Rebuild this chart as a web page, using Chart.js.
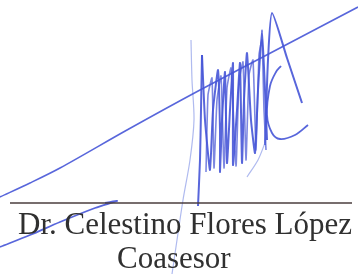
<!DOCTYPE html>
<html>
<head>
<meta charset="utf-8">
<script src="https://cdn.jsdelivr.net/npm/chart.js@4.4.1/dist/chart.umd.min.js"></script>
<style>
  html, body { margin: 0; padding: 0; background: #fff; }
  #sig { display: block; }
</style>
</head>
<body>
<canvas id="sig" width="358" height="274"></canvas>
<script>
// signature strokes (x, y in image pixels)
const longSlash = [[358, 7], [280, 48], [200, 90], [127, 130], [60, 168], [30, 183], [0, 197]];
const lowSlash = [[0, 247], [30, 235], [60, 222], [95, 208], [117, 201], [105, 203]];
const faintStem = [[191, 40], [192, 80], [194, 120], [190, 160], [183, 200], [177, 240], [172, 274]];
const mainStem = [[202, 55], [201, 110], [200, 160], [198, 206]];
const zigzag = [
  [202, 55], [205, 120], [210, 170], [213, 110], [218, 70],
  [220, 130], [220, 172], [222, 120], [225, 72], [227, 163], [230, 110], [233, 63],
  [233, 165], [237, 110], [240, 63], [242, 163], [244, 100], [247, 53], [251, 120],
  [255, 153], [258, 90], [262, 30], [265, 90], [267, 140]
];
const zigzag2 = [
  [206, 172], [208, 95], [212, 78], [214, 168], [217, 100], [221, 76], [224, 168],
  [227, 88], [231, 68], [236, 166], [239, 82], [243, 62], [246, 160], [249, 75],
  [253, 60], [256, 150], [259, 55], [262, 40], [264, 110], [266, 150]
];
const peakA = [[265, 145], [268, 60], [272, 13], [287, 58], [302, 103]];
const curlC = [[281, 66], [276, 72], [270, 86], [267, 115], [272, 133], [280, 139], [295, 135], [308, 125]];
const faintTail = [[265, 143], [258, 160], [247, 177]];
const rule = [[10, 203], [352, 203]];

const nameLines = ['Dr. Celestino Flores López', 'Coasesor'];

const ink = 'rgba(70, 85, 215, 0.9)';
const inkLight = 'rgba(110, 130, 225, 0.55)';

function stroke(points, color, width, tension) {
  return {
    data: points.map(p => ({ x: p[0], y: p[1] })),
    showLine: true,
    borderColor: color,
    borderWidth: width,
    pointRadius: 0,
    tension: tension,
    fill: false,
  };
}

const textPlugin = {
  id: 'caption',
  afterDatasetsDraw(chart) {
    const { ctx, scales } = chart;
    ctx.save();
    ctx.fillStyle = '#303030';
    ctx.font = '31px "Liberation Serif", "DejaVu Serif", serif';
    ctx.textBaseline = 'alphabetic';
    ctx.fillText(nameLines[0], scales.x.getPixelForValue(18), scales.y.getPixelForValue(234));
    ctx.fillText(nameLines[1], scales.x.getPixelForValue(117), scales.y.getPixelForValue(268));
    ctx.restore();
  }
};

new Chart(document.getElementById('sig'), {
  type: 'scatter',
  data: {
    datasets: [
      stroke(rule, '#4a3c3c', 1.3, 0),
      stroke(longSlash, ink, 1.6, 0.3),
      stroke(lowSlash, ink, 1.8, 0.3),
      stroke(faintStem, inkLight, 1.2, 0.3),
      stroke(faintTail, inkLight, 1.2, 0.3),
      stroke(mainStem, ink, 2, 0.2),
      stroke(zigzag, ink, 2, 0.15),
      stroke(zigzag2, 'rgba(80, 95, 215, 0.75)', 1.6, 0.15),
      stroke(peakA, ink, 2, 0.2),
      stroke(curlC, ink, 1.8, 0.35),
    ]
  },
  options: {
    responsive: false,
    animation: false,
    layout: { padding: 0 },
    plugins: { legend: { display: false }, tooltip: { enabled: false } },
    scales: {
      x: { type: 'linear', min: 0, max: 358, display: false },
      y: { type: 'linear', min: 0, max: 274, reverse: true, display: false }
    }
  },
  plugins: [textPlugin]
});
</script>
</body>
</html>
